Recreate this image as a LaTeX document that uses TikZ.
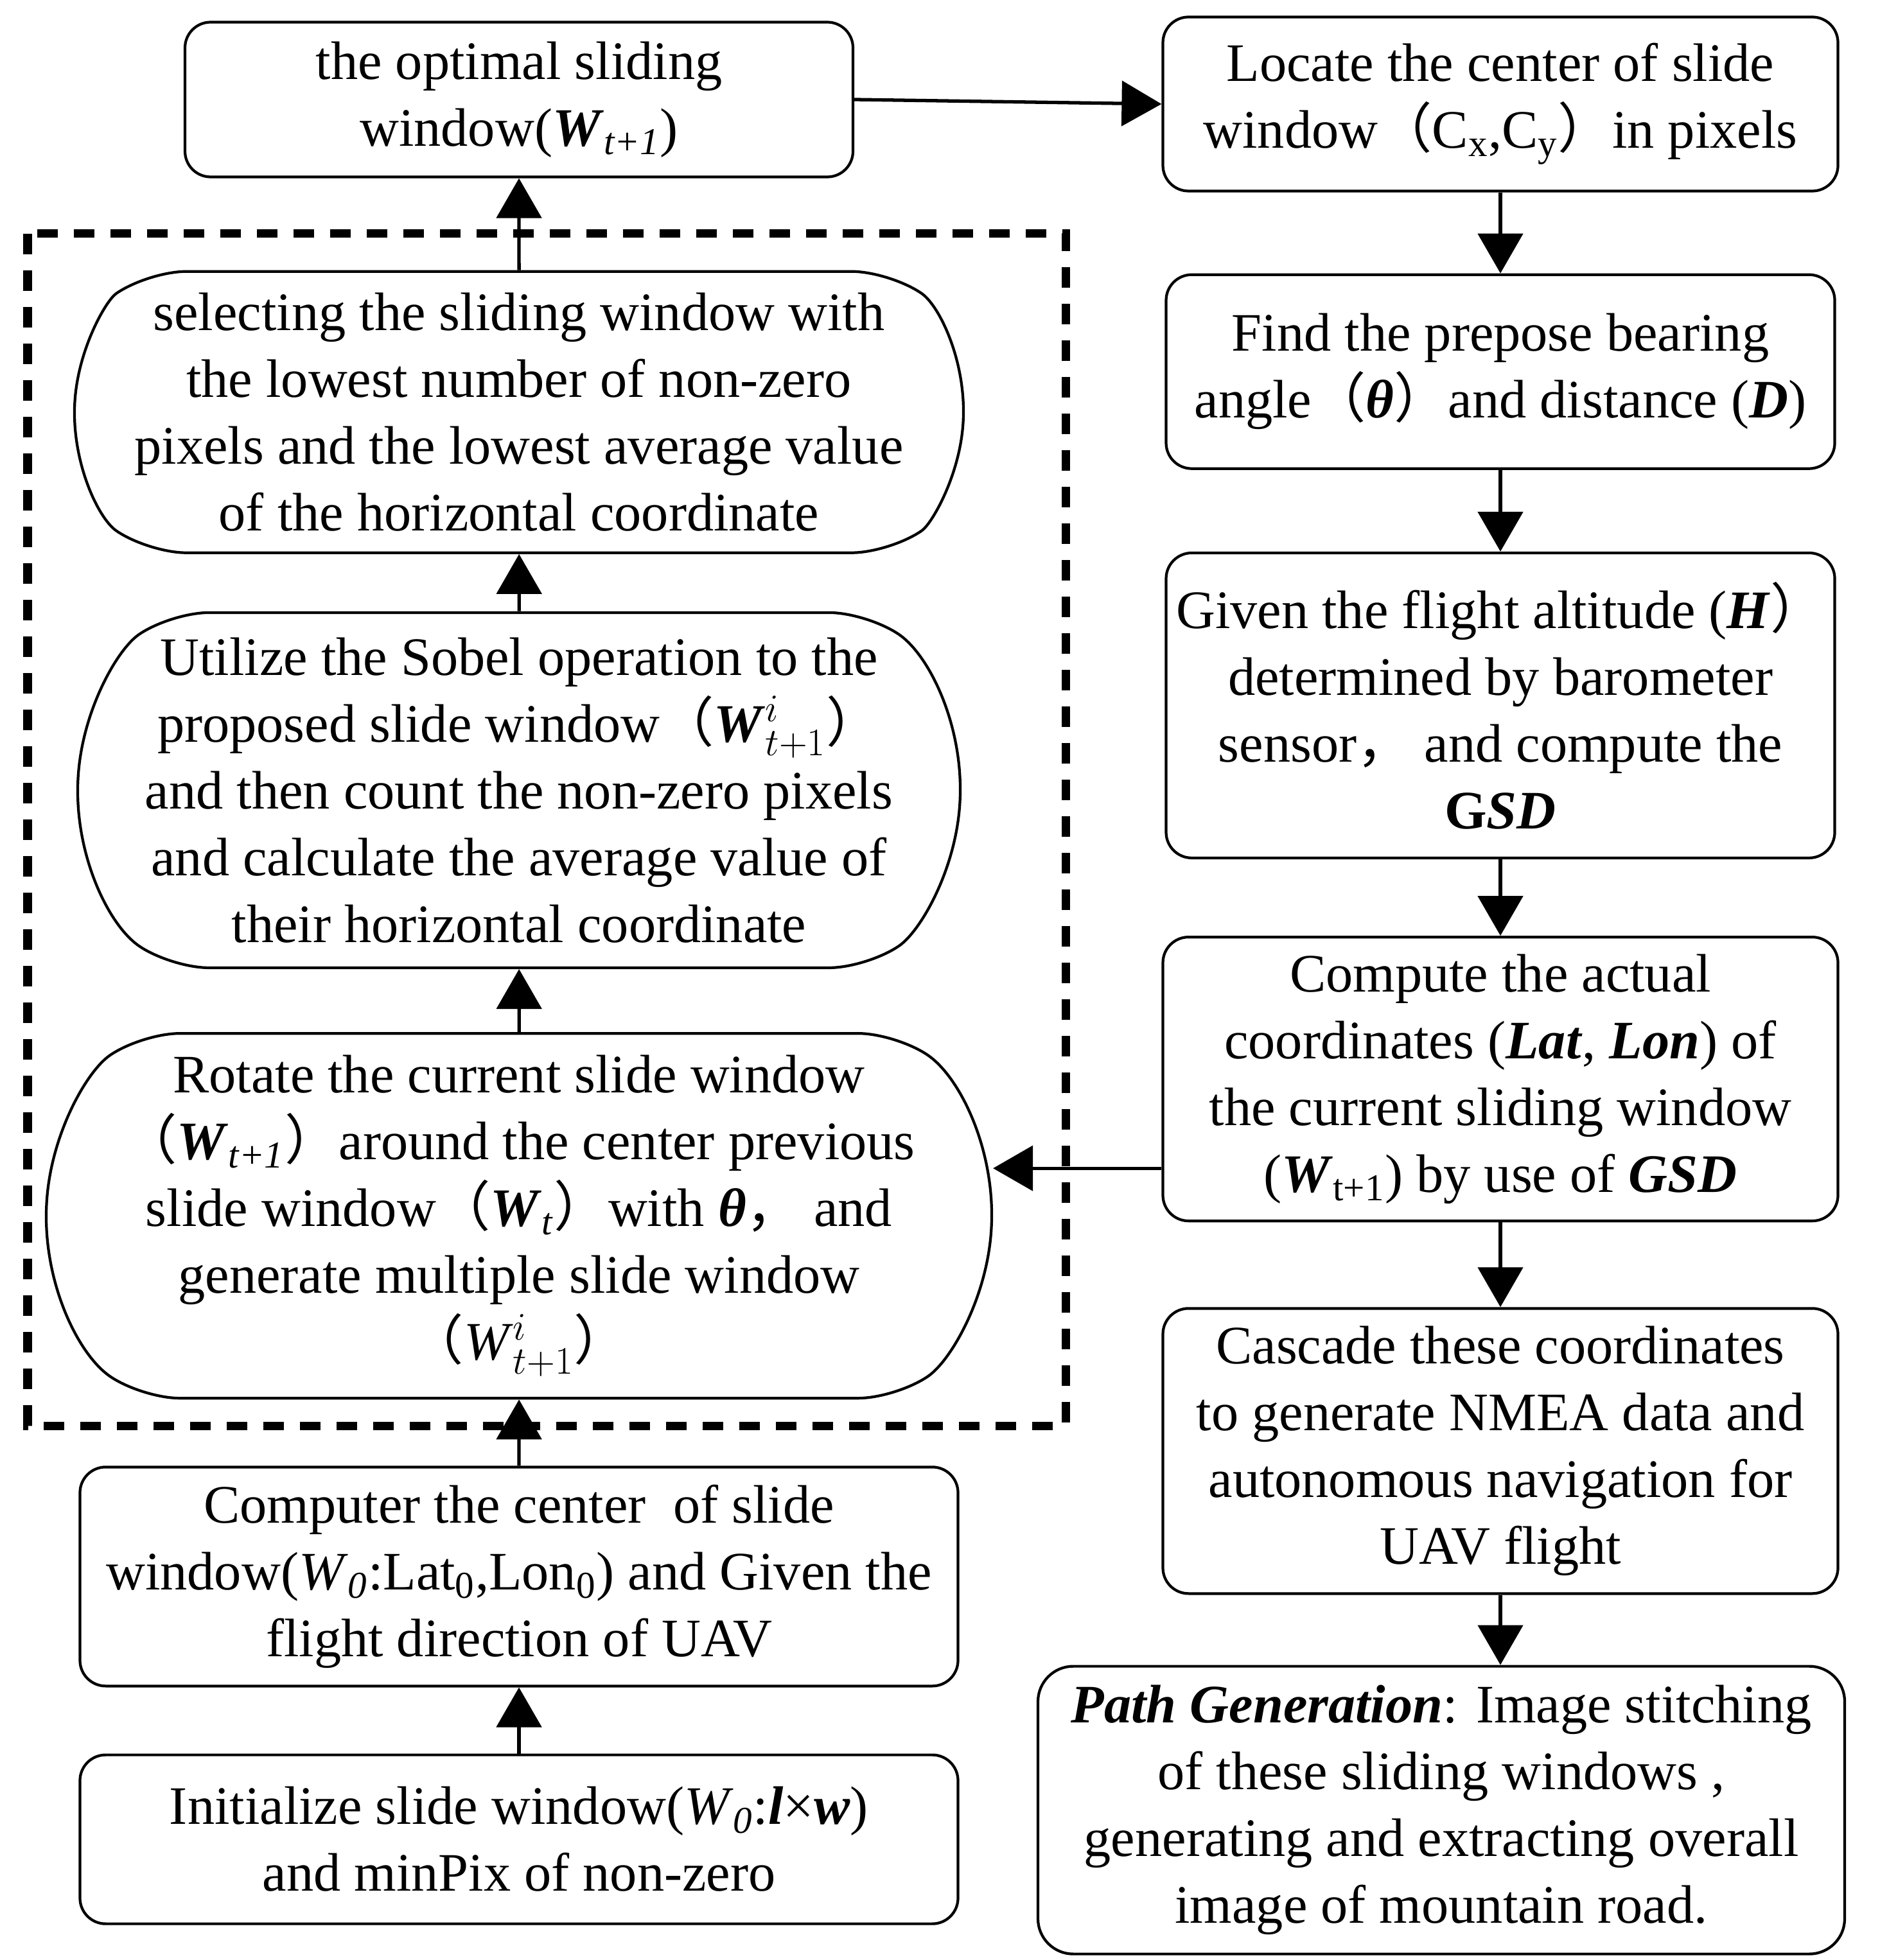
\documentclass[tikz,border=0pt]{standalone}
\usepackage{fontspec}
\setmainfont{Liberation Serif}
\newfontfamily\cjk{Noto Sans CJK SC}
\usetikzlibrary{shapes.misc, positioning, arrows.meta}

\begin{document}
\begin{tikzpicture}[
  node distance=1cm,
  box/.style={draw, line width=1.2pt, rounded corners=0.4cm, align=center, inner sep=0pt, font=\fontsize{24}{29.6}\selectfont},
  oval/.style={draw, line width=1.2pt, rounded rectangle, rounded rectangle arc length=110, rounded corners=0.6cm, align=center, inner sep=0pt, font=\fontsize{24}{29.6}\selectfont},
  arrow/.style={-{Triangle[length=0.62cm, width=0.7cm]}, line width=1.5pt},
  dashframe/.style={dash pattern=on 0.32cm off 0.25cm, line width=0.13cm},
]
\useasboundingbox (0,0) rectangle (29.26,-30.52);

% Left column
\node[box, minimum width=10.4cm, minimum height=2.41cm] (optimal) at (8.08,-1.55)
  {the optimal sliding\\window(\textbf{\textit{W}}\textsubscript{\textit{t+1}})};
\node[oval, minimum width=13.84cm, minimum height=4.38cm, below=1.43cm of optimal] (selecting)
  {selecting the sliding window with\\the lowest number of non-zero\\pixels and the lowest average value\\of the horizontal coordinate};
\node[oval, minimum width=13.74cm, minimum height=5.53cm, below=0.89cm of selecting] (utilize)
  {Utilize the Sobel operation to the\\proposed slide window{\cjk（}\textbf{\textit{W}}$^{i}_{t+1}${\cjk）}\\and then count the non-zero pixels\\and calculate the average value of\\their horizontal coordinate};
\node[oval, minimum width=14.72cm, minimum height=5.68cm, below=0.98cm of utilize] (rotate)
  {Rotate the current slide window\\{\cjk（}\textbf{\textit{W}}\textsubscript{\textit{t+1}}{\cjk）}around the center previous\\slide window{\cjk（}\textbf{\textit{W}}\textsubscript{\textit{t}}{\cjk）}with \textbf{\textit{θ}}{\cjk，} and\\generate multiple slide window\\{\cjk（}\textit{W}$^{i}_{t+1}${\cjk）}};
\node[box, minimum width=13.67cm, minimum height=3.41cm, below=1.03cm of rotate] (computer)
  {Computer the center~ of slide\\window(\textit{W}\textsubscript{\textit{0}}:Lat\textsubscript{0},Lon\textsubscript{0}) and Given the\\flight direction of UAV};
\node[box, minimum width=13.67cm, minimum height=2.63cm, below=1.03cm of computer] (init)
  {Initialize slide window(\textit{W}\textsubscript{\textit{0}}:\textbf{\textit{l}}×\textbf{\textit{w}})\\and minPix of non-zero};

% Right column
\node[box, minimum width=10.51cm, minimum height=2.71cm] (locate) at (23.36,-1.62)
  {Locate the center of slide\\window{\cjk（}C\textsubscript{x},C\textsubscript{y}{\cjk）}in pixels};
\node[box, minimum width=10.41cm, minimum height=3.02cm, below=1.26cm of locate] (find)
  {Find the prepose bearing\\angle{\cjk（}\textbf{\textit{θ}}{\cjk）}and distance (\textbf{\textit{D}})};
\node[box, minimum width=10.41cm, minimum height=4.75cm, below=1.27cm of find] (given)
  {Given the flight altitude (\textbf{\textit{H}}{\cjk）}\\determined by barometer\\sensor{\cjk，} and compute the\\\textbf{G\textit{SD}}};
\node[box, minimum width=10.51cm, minimum height=4.42cm, below=1.19cm of given] (compute)
  {Compute the actual\\coordinates (\textbf{\textit{Lat}}, \textbf{\textit{Lon}}) of\\the current sliding window\\(\textbf{\textit{W}}\textsubscript{t+1}) by use of \textbf{\textit{GSD}}};
\node[box, minimum width=10.51cm, minimum height=4.44cm, below=1.32cm of compute] (cascade)
  {Cascade these coordinates\\to generate NMEA data and\\autonomous navigation for\\UAV flight};
\node[box, rounded corners=0.55cm, minimum width=12.56cm, minimum height=4.48cm, below=1.09cm of cascade, xshift=-0.92cm] (path)
  {\textbf{\textit{Path Generation}}: Image stitching\\of these sliding windows ,\\generating and extracting overall\\image of mountain road.};

% Connectors
\draw[arrow] (init) -- (computer);
\draw[arrow] (computer) -- (rotate);
\draw[arrow] (rotate) -- (utilize);
\draw[arrow] (utilize) -- (selecting);
\draw[arrow] (selecting) -- (optimal);
\draw[arrow] (optimal.east) -- (locate.west);
\draw[arrow] (locate) -- (find);
\draw[arrow] (find) -- (given);
\draw[arrow] (given) -- (compute);
\draw[arrow] (compute) -- (cascade);
\draw[arrow] (cascade.south) -- (cascade.south |- path.north);
\draw[arrow] ([yshift=-1.39cm]compute.west) -- ([yshift=-1.39cm]compute.west -| rotate.east);

% Search loop frame
\draw[dashframe] (0.43,-3.64) rectangle (16.59,-22.20);

\end{tikzpicture}
\end{document}
